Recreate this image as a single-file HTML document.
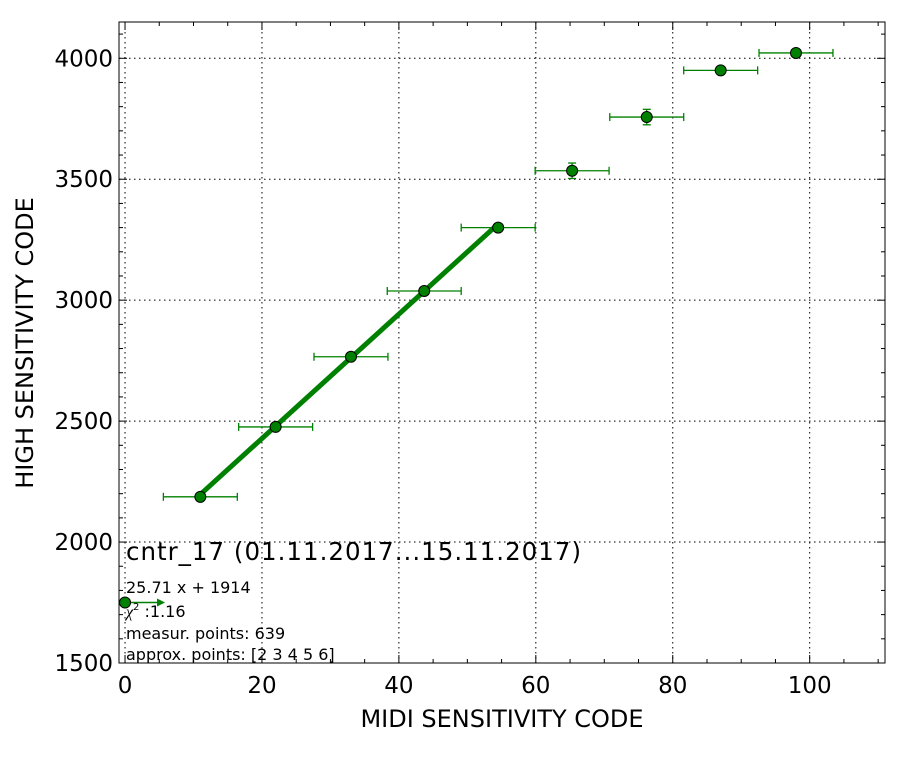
<!DOCTYPE html>
<html><head><meta charset="utf-8"><style>
body{margin:0;background:#fff;}
svg text{font-family:"DejaVu Sans","Liberation Sans",sans-serif;}
</style></head><body>
<svg id="chart" width="912" height="762" xmlns="http://www.w3.org/2000/svg"></svg>
<script>
const xVals=[0,11,22,33,43.7,54.5,65.3,76.2,87,98];
const yVals=[1750,2187,2476,2766,3038,3300,3535,3757,3950,4022];
const xErr=[0,5.4,5.4,5.4,5.4,5.4,5.4,5.4,5.4,5.4];
const yErr=[0,8,8,8,8,8,32,32,8,8];
const fitSlope=25.71, fitIntercept=1914;
const fitRange=[11,54.5];
const xTicks=[0,20,40,60,80,100];
const yTicks=[1500,2000,2500,3000,3500,4000];
const infoLines=["25.71 x + 1914","measur. points: 639","approx. points: [2 3 4 5 6]"];

const L=119,R=885,T=22,B=663, X0=-0.88,X1=111, Y0=1500,Y1=4150;
const sx=v=>L+(v-X0)/(X1-X0)*(R-L);
const sy=v=>B-(v-Y0)/(Y1-Y0)*(B-T);
const svg=document.getElementById('chart');
const NS='http://www.w3.org/2000/svg';
function mk(tag,attrs,parent){const e=document.createElementNS(NS,tag);for(const k in attrs)e.setAttribute(k,attrs[k]);(parent||svg).appendChild(e);return e;}

for(const t of xTicks){const g=mk('line',{x1:sx(t),x2:sx(t),y1:T,y2:B,stroke:'#000','stroke-dasharray':'1.5,3.5','stroke-width':1});

}
for(const t of yTicks){const g=mk('line',{x1:L,x2:R,y1:sy(t),y2:sy(t),stroke:'#000','stroke-dasharray':'1.5,3.5','stroke-width':1});

}
for(let v=0;v<=110;v+=5){const major=v%20===0;const l=major?8:4;
mk('line',{x1:sx(v),x2:sx(v),y1:B,y2:B-l,stroke:'#000'});mk('line',{x1:sx(v),x2:sx(v),y1:T,y2:T+l,stroke:'#000'});}
for(let v=1500;v<=4100;v+=100){const major=v%500===0;const l=major?8:4;
mk('line',{x1:L,x2:L+l,y1:sy(v),y2:sy(v),stroke:'#000'});mk('line',{x1:R,x2:R-l,y1:sy(v),y2:sy(v),stroke:'#000'});}
for(const t of xTicks){const e=mk('text',{x:sx(t),y:B+30,'font-size':23,'text-anchor':'middle'});e.textContent=t;

}
for(const t of yTicks){const e=mk('text',{x:L-6,y:sy(t)+8,'font-size':23,'text-anchor':'end'});e.textContent=t;

}
const fr=mk('rect',{x:L,y:T,width:R-L,height:B-T,fill:'none',stroke:'#000','stroke-width':1});


const fl=mk('line',{x1:sx(fitRange[0]),y1:sy(fitSlope*fitRange[0]+fitIntercept),x2:sx(fitRange[1]),y2:sy(fitSlope*fitRange[1]+fitIntercept),stroke:'#008000','stroke-width':5});


for(let i=0;i<xVals.length;i++){
 const cx=sx(xVals[i]),cy=sy(yVals[i]);
 if(xErr[i]>0){const a=sx(xVals[i]-xErr[i]),b=sx(xVals[i]+xErr[i]);
  const eb=mk('line',{x1:a,x2:b,y1:cy,y2:cy,stroke:'#008000','stroke-width':1.3});
  
  
  mk('line',{x1:a,x2:a,y1:cy-4,y2:cy+4,stroke:'#008000','stroke-width':1.3});
  mk('line',{x1:b,x2:b,y1:cy-4,y2:cy+4,stroke:'#008000','stroke-width':1.3});}
 if(yErr[i]>0){const a=sy(yVals[i]-yErr[i]),b=sy(yVals[i]+yErr[i]);
  mk('line',{x1:cx,x2:cx,y1:a,y2:b,stroke:'#008000','stroke-width':1.3});
  mk('line',{x1:cx-4,x2:cx+4,y1:a,y2:a,stroke:'#008000','stroke-width':1.3});
  mk('line',{x1:cx-4,x2:cx+4,y1:b,y2:b,stroke:'#008000','stroke-width':1.3});}
 if(i===0){mk('line',{x1:cx,x2:cx+34,y1:cy,y2:cy,stroke:'#008000','stroke-width':1.5});
  mk('polygon',{points:`${cx+40},${cy} ${cx+32},${cy-4} ${cx+32},${cy+4}`,fill:'#008000'});}
 const p=mk('circle',{cx:cx,cy:cy,r:5.5,fill:'#008000',stroke:'#000','stroke-width':1});
 
 
}
const title=mk('text',{x:126,y:560,'font-size':24.5,textLength:455});title.textContent='cntr_17 (01.11.2017...15.11.2017)';


const t1=mk('text',{x:126,y:593,'font-size':16});t1.textContent=infoLines[0];


const t2=mk('text',{x:126,y:617,'font-size':16});t2.innerHTML='<tspan font-style="italic" font-family="Liberation Serif">χ</tspan><tspan font-size="10" dy="-7">2</tspan><tspan dy="7"> :1.16</tspan>';


const t3=mk('text',{x:126,y:639,'font-size':16});t3.textContent=infoLines[1];


const t4=mk('text',{x:126,y:660,'font-size':16});t4.textContent=infoLines[2];


const xl=mk('text',{x:502,y:727,'font-size':24,'text-anchor':'middle'});xl.textContent='MIDI SENSITIVITY CODE';


const yl=mk('text',{x:0,y:0,'font-size':24,'text-anchor':'middle',transform:'translate(33,343) rotate(-90)'});yl.textContent='HIGH SENSITIVITY CODE';


</script>
</body></html>
